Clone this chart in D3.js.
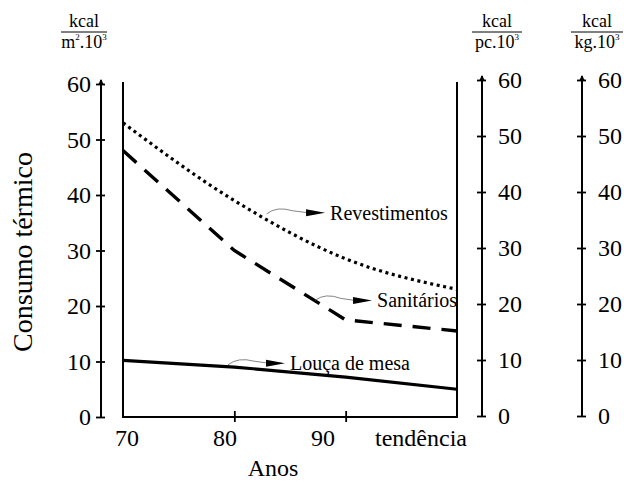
<!DOCTYPE html>
<html>
<head>
<meta charset="utf-8">
<script src="https://cdn.jsdelivr.net/npm/d3@7"></script>
<style>
  body { margin: 0; background: #fff; }
  svg, svg text { font-family: "Liberation Serif", "Times New Roman", serif; }
</style>
</head>
<body>
<svg width="624" height="482"></svg>
<script>
const categories = ['70', '80', '90', 'tendência'];
const revestimentos = [53, 39, 28.5, 23];
const sanitarios = [48, 30, 17.5, 15.5];
const loucaMesa = [10.2, 9.0, 7.2, 5.0];
const yTicks = [0, 10, 20, 30, 40, 50, 60];

const series = [
  { name: 'Revestimentos', values: revestimentos, dash: '3,3.6', width: 3.2 },
  { name: 'Sanitários', values: sanitarios, dash: '18,11', width: 3.4 },
  { name: 'Louça de mesa', values: loucaMesa, dash: null, width: 3.2 },
];

// annotation: start point and arrow tip in data units (x = category index)
const notes = [
  { text: 'Revestimentos', from: [1.29, 36.6], to: [1.815, 36.8] },
  { text: 'Sanitários', from: [1.725, 21.0], to: [2.237, 21.0] },
  { text: 'Louça de mesa', from: [0.943, 9.4], to: [1.455, 9.7] },
];

const svg = d3.select('svg');

const x = d3.scaleLinear().domain([0, categories.length - 1]).range([123, 457]);
const xLabel = d3.scaleLinear().domain([0, categories.length - 1]).range([127, 421]);
const y = d3.scaleLinear().domain([0, 60]).range([417, 84]);
const yRight = d3.scaleLinear().domain([0, 60]).range([416, 80]);

// frame of the plot
svg.append('path')
  .attr('d', `M${x(0)},82V${y(0)}H${x(3)}V82`)
  .attr('fill', 'none').attr('stroke', '#000').attr('stroke-width', 2);

// bottom axis ticks + labels
const bottom = svg.append('g').attr('transform', `translate(0,${y(0)})`)
  .call(d3.axisBottom(x).tickValues([1, 2]).tickSize(5).tickFormat(''));
bottom.select('.domain').remove();
bottom.selectAll('line').attr('y1', -6).attr('y2', 5).attr('stroke-width', 1.8);

svg.append('g').selectAll('text').data(categories).join('text')
  .attr('x', (d, i) => xLabel(i))
  .attr('y', 446)
  .attr('text-anchor', 'middle')
  .attr('font-size', 24)
  .text(d => d);

// vertical axes
function drawAxis(xPos, scale, side) {
  const axis = side === 'left' ? d3.axisLeft(scale) : d3.axisRight(scale);
  const g = svg.append('g').attr('transform', `translate(${xPos},0)`)
    .call(axis.tickValues(yTicks).tickSize(5).tickPadding(side === 'left' ? 5 : 11));
  g.attr('font-family', null).attr('font-size', 24);
  g.select('.domain').attr('d', `M0,${scale(0)}V${scale(60) - 4}`).attr('stroke-width', 2);
  g.selectAll('.tick line').attr('x1', -5).attr('x2', 4).attr('stroke-width', 1.8);
  // small arrow at the top
  g.append('path')
    .attr('d', `M-3,${scale(60) + 1}L0,${scale(60) - 5}L3,${scale(60) + 1}Z`)
    .attr('fill', '#000');
  return g;
}
drawAxis(101, y, 'left');
drawAxis(482, yRight, 'right');
drawAxis(582, yRight, 'right');

// unit headers
const headers = [
  { cx: 84, unit: 'm', sup1: '2', rest: '.10', sup2: '3', w: 46 },
  { cx: 497, unit: 'pc', sup1: '', rest: '.10', sup2: '3', w: 50 },
  { cx: 597, unit: 'kg', sup1: '', rest: '.10', sup2: '3', w: 52 },
];
headers.forEach(h => {
  const g = svg.append('g');
  g.append('text').attr('x', h.cx).attr('y', 27).attr('text-anchor', 'middle')
    .attr('font-size', 18).text('kcal');
  g.append('line').attr('x1', h.cx - h.w / 2).attr('x2', h.cx + h.w / 2)
    .attr('y1', 32).attr('y2', 32).attr('stroke', '#000').attr('stroke-width', 1);
  const t = g.append('text').attr('x', h.cx).attr('y', 48).attr('text-anchor', 'middle')
    .attr('font-size', 18);
  t.append('tspan').text(h.unit);
  if (h.sup1) t.append('tspan').attr('font-size', 9).attr('dy', -8).text(h.sup1);
  t.append('tspan').attr('dy', h.sup1 ? 8 : 0).text(h.rest);
  t.append('tspan').attr('font-size', 9).attr('dy', -8).text(h.sup2);
});

// series lines
const line = d3.line()
  .x((d, i) => x(i))
  .y(d => y(d));

svg.append('g').selectAll('path').data(series).join('path')
  .attr('d', d => line.curve(d.name === 'Revestimentos' ? d3.curveMonotoneX : d3.curveLinear)(d.values))
  .attr('fill', 'none')
  .attr('stroke', '#000')
  .attr('stroke-width', d => d.width)
  .attr('stroke-dasharray', d => d.dash);

// annotations
const ann = svg.append('g');
notes.forEach(n => {
  const x0 = x(n.from[0]), y0 = y(n.from[1]);
  const x1 = x(n.to[0]), y1 = y(n.to[1]);
  ann.append('path')
    .attr('d', `M${x0},${y0}Q${x0 + 10},${y0 - 8} ${x0 + 26},${y1 - 2}L${x1 - 17},${y1}`)
    .attr('fill', 'none').attr('stroke', '#666').attr('stroke-width', 0.8);
  ann.append('path')
    .attr('d', `M${x1 - 19},${y1 - 3.5}L${x1},${y1}L${x1 - 19},${y1 + 3.5}Z`)
    .attr('fill', '#000');
  ann.append('text').attr('x', x1 + 5).attr('y', y1 + 7)
    .attr('font-size', 20).text(n.text);
});

// axis titles
svg.append('text').attr('x', 273).attr('y', 476).attr('text-anchor', 'middle')
  .attr('font-size', 24).text('Anos');
svg.append('text')
  .attr('transform', 'translate(32,252) rotate(-90)')
  .attr('text-anchor', 'middle')
  .attr('font-size', 28).text('Consumo térmico');
</script>
</body>
</html>
